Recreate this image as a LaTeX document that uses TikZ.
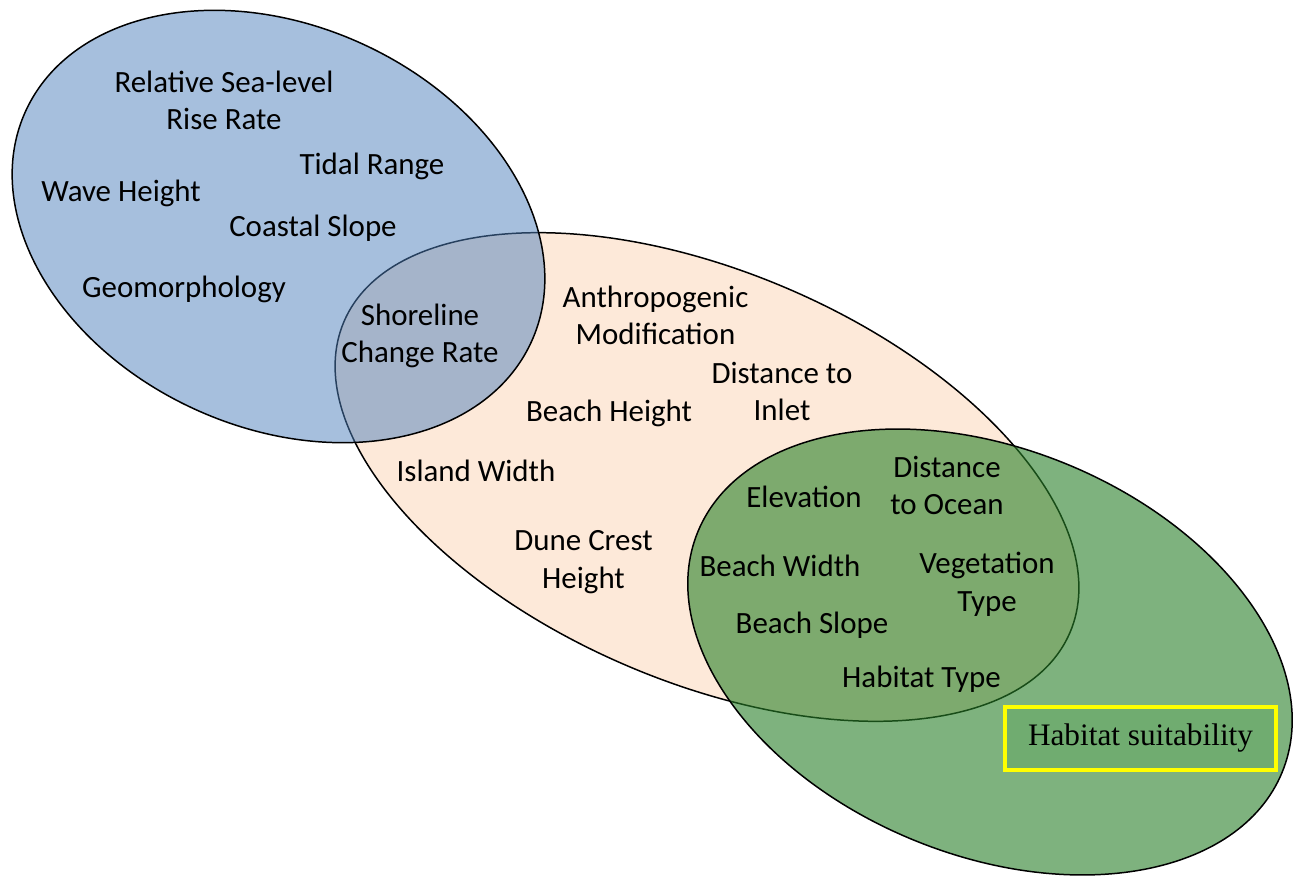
\documentclass[tikz,border=0pt]{standalone}
\usepackage{fontspec}
\setmainfont{Carlito}
\newfontfamily\timesfont{Liberation Serif}
\definecolor{peachfill}{RGB}{253,233,217}
\definecolor{bluefill}{RGB}{79,129,189}
\definecolor{greenfill}{RGB}{40,128,40}
\definecolor{boxfill}{RGB}{112,172,112}
\definecolor{boxline}{RGB}{255,255,0}
\begin{document}
\begin{tikzpicture}[x=0.02cm,y=0.02cm,
  lbl/.style={font=\fontsize{17.6}{21.5}\selectfont, align=center, inner sep=0pt, anchor=base},
  vennline/.style={draw=black, line width=0.85pt},
  suitbox/.style={draw=boxline, line width=2.3pt, fill=boxfill, minimum width=5.42cm, minimum height=1.26cm,
    inner sep=0pt, font=\timesfont\fontsize{17.8}{21}\selectfont}]
\useasboundingbox (0,0) rectangle (1299,880);
\fill[white] (0,0) rectangle (1299,880);
% ellipses
\path[vennline, fill=peachfill, shift={(707,403)}, rotate=-23.2] (0,0) ellipse [x radius=7.9cm, y radius=4.1cm];
\path[vennline, fill=bluefill, fill opacity=0.5, shift={(278.5,653.5)}, rotate=-24.5] (0,0) ellipse [x radius=5.56cm, y radius=4.02cm];
\path[vennline, fill=greenfill, fill opacity=0.6, shift={(990,228)}, rotate=-22.4] (0,0) ellipse [x radius=6.32cm, y radius=4.06cm];
% yellow box
\node[suitbox] (suit) at (1140.5,141.5) {Habitat suitability};
% labels (multi-line nodes: base = last line)
\node[lbl] (rel) at (224,750) {Relative Sea-level\\Rise Rate};
\node[lbl] (tidal) at (372,705) {Tidal Range};
\node[lbl] (wave) at (121,678) {Wave Height};
\node[lbl] (coastal) at (313,643) {Coastal Slope};
\node[lbl] (geo) at (184,582) {Geomorphology};
\node[lbl] (shore) at (420,517) {Shoreline\\Change Rate};
\node[lbl] (anthro) at (655.5,535) {Anthropogenic\\Modification};
\node[lbl] (dist) at (782,459) {Distance to\\Inlet};
\node[lbl] (bheight) at (609,458) {Beach Height};
\node[lbl] (island) at (476,398) {Island Width};
\node[lbl] (dune) at (583.5,292) {Dune Crest\\Height};
\node[lbl] (elev) at (804,372) {Elevation};
\node[lbl] (docean) at (947,365) {Distance\\to Ocean};
\node[lbl] (bwidth) at (780,303) {Beach Width};
\node[lbl] (veg) at (987,269) {Vegetation\\Type};
\node[lbl] (bslope) at (812,247) {Beach Slope};
\node[lbl] (htype) at (921.5,193) {Habitat Type};
\end{tikzpicture}
\end{document}
